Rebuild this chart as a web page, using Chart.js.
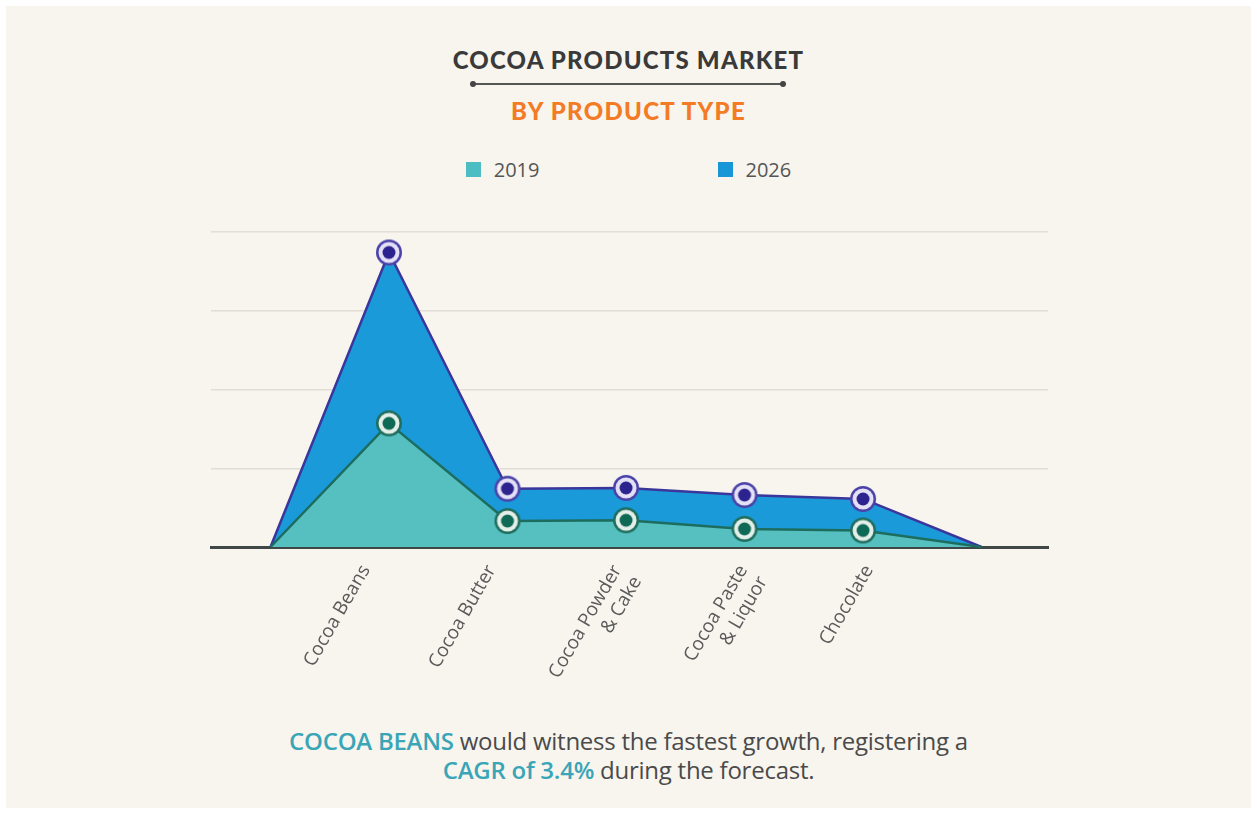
<!DOCTYPE html>
<html>
<head>
<meta charset="utf-8">
<script src="https://cdn.jsdelivr.net/npm/chart.js@4.4.1/dist/chart.umd.min.js"></script>
<style>
  html, body { margin: 0; padding: 0; background: #ffffff; }
  #panel {
    position: absolute; left: 6px; top: 6px; width: 1245px; height: 802px;
    background: #f8f5ee;
  }
  .title {
    position: absolute; left: 0; width: 1257px; text-align: center;
    font-family: Lato, sans-serif; font-weight: 900; font-size: 24px; line-height: 30px;
  }
  #t1 { top: 45px; color: #3a3a3a; letter-spacing: 1.2px; }
  #t2 { top: 96px; color: #f47b25; letter-spacing: 1.3px; }
  #rule {
    position: absolute; left: 473px; top: 83px; width: 310px; height: 2px; background: #555;
  }
  #rule::before, #rule::after {
    content: ""; position: absolute; top: -2px; width: 6px; height: 6px; border-radius: 3px; background: #444;
  }
  #rule::before { left: -3px; }
  #rule::after { right: -3px; }
  #legend {
    position: absolute; top: 156px; left: 0; width: 1257px; height: 26px;
    display: flex; justify-content: center; gap: 178px;
    font-family: "Open Sans", sans-serif; font-size: 20px; color: #555;
  }
  #legend span.item { display: flex; align-items: center; }
  #legend span.box { width: 15px; height: 15px; margin-right: 13px; display: inline-block; }
  #wrap { position: absolute; left: 0; top: 190px; width: 1257px; height: 520px; }
  #foot {
    position: absolute; left: 0; top: 726px; width: 1257px; text-align: center;
    font-family: "Open Sans", sans-serif; font-size: 24px; line-height: 29px; color: #4a4a4a;
    letter-spacing: -0.25px;
  }
  #foot b { color: #3aa5b7; font-weight: 600; }
</style>
</head>
<body>
<div id="panel"></div>
<div class="title" id="t1">COCOA PRODUCTS MARKET</div>
<div id="rule"></div>
<div class="title" id="t2">BY PRODUCT TYPE</div>
<div id="legend"></div>
<div id="wrap"><canvas id="chart"></canvas></div>
<div id="foot"><b>COCOA BEANS</b> would witness the fastest growth, registering a<br><b>CAGR of 3.4%</b> during the forecast.</div>

<script>
// categories (first and last are the empty ends of the area)
const categories = ["", "Cocoa Beans", "Cocoa Butter", ["Cocoa Powder", "& Cake"], ["Cocoa Paste", "& Liquor"], "Chocolate", ""];
const years = ["2019", "2026"];
const values2019 = [0, 1.57, 0.33, 0.34, 0.23, 0.21, 0];
const values2026 = [0, 3.74, 0.74, 0.75, 0.66, 0.61, 0];

// ring marker used as point style
function marker(outer, ring, inner) {
  let c = document.createElement("canvas");
  c.width = 30;
  c.height = 30;
  let g = c.getContext("2d");
  g.fillStyle = outer;
  g.beginPath(); g.arc(15, 15, 13, 0, Math.PI * 2); g.fill();
  g.fillStyle = ring;
  g.beginPath(); g.arc(15, 15, 10.5, 0, Math.PI * 2); g.fill();
  g.fillStyle = inner;
  g.beginPath(); g.arc(15, 15, 6.5, 0, Math.PI * 2); g.fill();
  return c;
}

let last = categories.length - 1;
function toPoints(arr) {
  return arr.map((v, i) => ({ x: i, y: v }));
}
function endRadius(ctx) {
  return (ctx.dataIndex === 0 || ctx.dataIndex === last) ? 0 : 12;
}
function allTicks(scale) {
  scale.ticks = categories.map((c, i) => ({ value: i }));
}

let datasets = [
  {
    label: years[0],
    data: toPoints(values2019),
    backgroundColor: "#56bfbf",
    borderColor: "#1d6d5f",
    borderWidth: 2.5,
    fill: "origin",
    tension: 0,
    pointStyle: marker("#1f6e5e", "#e4efe9", "#0f6a55"),
    pointRadius: endRadius,
    legendColor: "#4cbdc2"
  },
  {
    label: years[1],
    data: toPoints(values2026),
    backgroundColor: "#1a9ad8",
    borderColor: "#3b369c",
    borderWidth: 2.5,
    fill: "origin",
    tension: 0,
    pointStyle: marker("#4a42a8", "#e4e1f6", "#2c238f"),
    pointRadius: endRadius,
    legendColor: "#1797d7"
  }
];

let lineChart = new Chart(document.getElementById("chart"), {
  type: "line",
  data: { datasets: datasets },
  options: {
    responsive: true,
    maintainAspectRatio: false,
    animation: false,
    clip: false,
    layout: { padding: { left: 211, right: 209, top: 42, bottom: 0 } },
    plugins: {
      legend: { display: false },
      tooltip: { enabled: false }
    },
    scales: {
      // data axis: draws the dark baseline
      x: {
        type: "linear",
        min: -0.502,
        max: 6.561,
        z: 1,
        grid: { display: false },
        border: { display: true, color: "#3f4847", width: 3 },
        afterBuildTicks: allTicks,
        afterFit: (scale) => {
          scale.height = 0;
        },
        ticks: { display: false }
      },
      // label axis: the category names sit a bit wider apart than the points
      xLabels: {
        type: "linear",
        position: "bottom",
        min: -0.23,
        max: 6.424,
        grid: { display: false },
        border: { display: false },
        afterBuildTicks: allTicks,
        afterFit: (scale) => {
          scale.height = 163;
        },
        ticks: {
          autoSkip: false,
          maxRotation: 60,
          minRotation: 60,
          padding: 6,
          color: "#5a5a5a",
          font: { family: "Open Sans", size: 19 },
          callback: (value) => categories[value] || ""
        }
      },
      y: {
        min: 0,
        max: 4,
        ticks: { display: false, stepSize: 1 },
        border: { display: false },
        afterFit: (scale) => {
          scale.width = 0;
        },
        grid: {
          drawTicks: false,
          color: "#e1ded6",
          lineWidth: 1.5
        }
      }
    }
  }
});

// legend built from the datasets
let legendEl = document.getElementById("legend");
lineChart.data.datasets.forEach((ds) => {
  legendEl.innerHTML += `<span class="item"><span class="box" style="background:${ds.legendColor}"></span>${ds.label}</span>`;
});
</script>
</body>
</html>
